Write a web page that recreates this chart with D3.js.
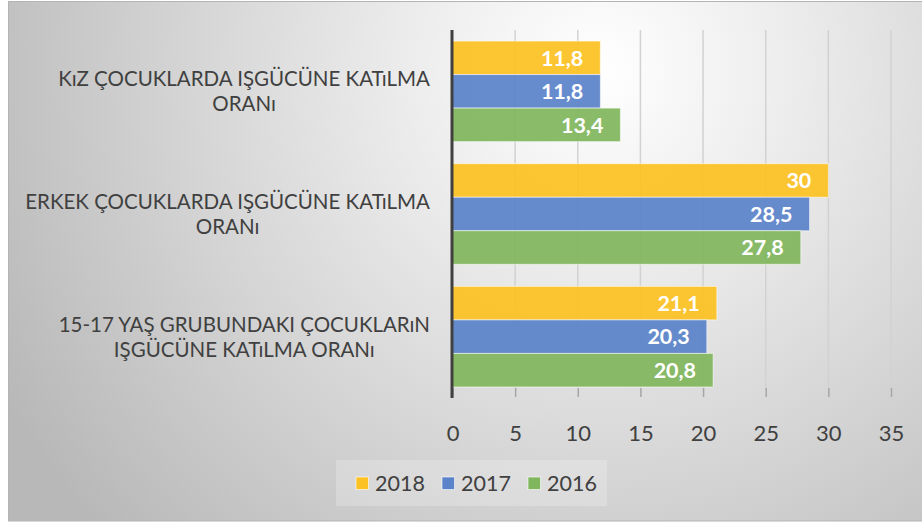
<!DOCTYPE html>
<html>
<head>
<meta charset="utf-8">
<script src="https://cdn.jsdelivr.net/npm/d3@7"></script>
<style>
  html, body { margin: 0; padding: 0; background: #ffffff; }
  svg { display: block; }
</style>
</head>
<body>
<svg id="chart" width="922" height="524"></svg>
<script>
// ---- data ----
const categories = [
  "KıZ ÇOCUKLARDA IŞGÜCÜNE KATıLMA ORANı",
  "ERKEK ÇOCUKLARDA IŞGÜCÜNE KATıLMA ORANı",
  "15-17 YAŞ GRUBUNDAKI ÇOCUKLARıN IŞGÜCÜNE KATıLMA ORANı"
];
const seriesNames = ["2018", "2017", "2016"];
const values2018 = [11.8, 30, 21.1];
const values2017 = [11.8, 28.5, 20.3];
const values2016 = [13.4, 27.8, 20.8];
const xTicks = [0, 5, 10, 15, 20, 25, 30, 35];

const seriesValues = [values2018, values2017, values2016];
const colors = ["#FCC223", "#5B83C9", "#80B65E"];

const FONT = "Lato, 'Open Sans', sans-serif";
const svg = d3.select("#chart");

// background
const defs = svg.append("defs");
const grad = defs.append("radialGradient")
  .attr("id", "bg").attr("gradientUnits", "userSpaceOnUse")
  .attr("cx", 600).attr("cy", 70).attr("r", 680);
grad.append("stop").attr("offset", "0").attr("stop-color", "#ffffff");
grad.append("stop").attr("offset", "0.3").attr("stop-color", "#ebebeb");
grad.append("stop").attr("offset", "1").attr("stop-color", "#b8b8b8");

svg.append("rect").attr("x", 8.5).attr("y", 1.5).attr("width", 914).attr("height", 519.5)
  .attr("fill", "url(#bg)").attr("stroke", "#b4b4b4").attr("stroke-width", 1);

// scales
const x = d3.scaleLinear().domain([0, 35]).range([452.5, 891]);
const y = d3.scaleBand().domain(categories).range([30, 398]).paddingInner(0.18).paddingOuter(0.09);
const ySub = d3.scaleBand().domain(seriesNames).range([0, y.bandwidth()]);

const plotTop = 30, plotBottom = 388, tickBottom = 397;

// gridlines
svg.append("g").selectAll("line").data(xTicks.filter(d => d > 0)).join("line")
  .attr("x1", d => x(d)).attr("x2", d => x(d))
  .attr("y1", plotTop).attr("y2", plotBottom)
  .attr("stroke", "#d2d2d2").attr("stroke-width", 1.5);

// axis (ticks + labels) via d3.axisBottom
const axisG = svg.append("g").attr("transform", `translate(0,${plotBottom})`)
  .call(d3.axisBottom(x).tickValues(xTicks).tickSize(tickBottom - plotBottom).tickPadding(28));
axisG.select(".domain").remove();
axisG.selectAll(".tick line").attr("stroke", "#a6a6a6").attr("stroke-width", 1.5);
axisG.selectAll(".tick text").attr("fill", "#404040")
  .style("font-family", FONT).style("font-size", "22px");

// bars
const groups = svg.append("g").selectAll("g").data(categories).join("g")
  .attr("transform", d => `translate(0,${y(d)})`);

const fmt = v => d3.format("~r")(v).replace(".", ",");

groups.each(function(cat, ci) {
  const g = d3.select(this);
  seriesNames.forEach((s, si) => {
    const v = seriesValues[si][ci];
    g.append("rect")
      .attr("x", x(0)).attr("y", ySub(s))
      .attr("width", x(v) - x(0)).attr("height", ySub.bandwidth())
      .attr("fill", colors[si]).attr("fill-opacity", 0.93)
      .attr("stroke", "rgba(255,255,255,0.55)").attr("stroke-width", 1);
    g.append("text")
      .attr("x", x(v) - 17).attr("y", ySub(s) + ySub.bandwidth() / 2)
      .attr("dy", "0.36em").attr("text-anchor", "end")
      .attr("fill", "#ffffff").style("font-family", FONT)
      .style("font-size", "21.5px").style("font-weight", "bold")
      .text(fmt(v));
  });
});

// value axis line (category axis at 0)
svg.append("line").attr("x1", x(0) - 0.5).attr("x2", x(0) - 0.5)
  .attr("y1", plotTop).attr("y2", 398)
  .attr("stroke", "#404040").attr("stroke-width", 3);

// category labels with wrapping
const labelRight = 430, wrapWidth = 415, lineH = 25;
const measure = svg.append("text").style("font-family", FONT).style("font-size", "20.5px");
function textW(t) { measure.text(t); return measure.node().getComputedTextLength(); }

categories.forEach(cat => {
  const words = cat.split(" ");
  const lines = [];
  let cur = "";
  words.forEach(w => {
    const test = cur ? cur + " " + w : w;
    if (textW(test) > wrapWidth && cur) { lines.push(cur); cur = w; }
    else cur = test;
  });
  if (cur) lines.push(cur);
  const blockW = d3.max(lines, l => textW(l));
  const cx = labelRight - blockW / 2;
  const cy = y(cat) + y.bandwidth() / 2;
  const t = svg.append("text").attr("text-anchor", "middle").attr("fill", "#404040")
    .style("font-family", FONT).style("font-size", "20.5px");
  lines.forEach((l, i) => {
    t.append("tspan").attr("x", cx)
      .attr("y", cy - 5 + (i - (lines.length - 2) / 2) * lineH)
      .text(l);
  });
});
measure.remove();

// legend
const legend = svg.append("g");
legend.append("rect").attr("x", 336).attr("y", 460).attr("width", 271).attr("height", 46)
  .attr("fill", "rgba(255,255,255,0.22)");
const legX = [356, 442, 528];
seriesNames.forEach((s, i) => {
  legend.append("rect").attr("x", legX[i]).attr("y", 477).attr("width", 12.5).attr("height", 12.5)
    .attr("fill", colors[i]).attr("stroke", "rgba(255,255,255,0.6)").attr("stroke-width", 1);
  legend.append("text").attr("x", legX[i] + 19).attr("y", 490.5).attr("fill", "#404040")
    .style("font-family", FONT).style("font-size", "21.5px").text(s);
});
</script>
</body>
</html>
